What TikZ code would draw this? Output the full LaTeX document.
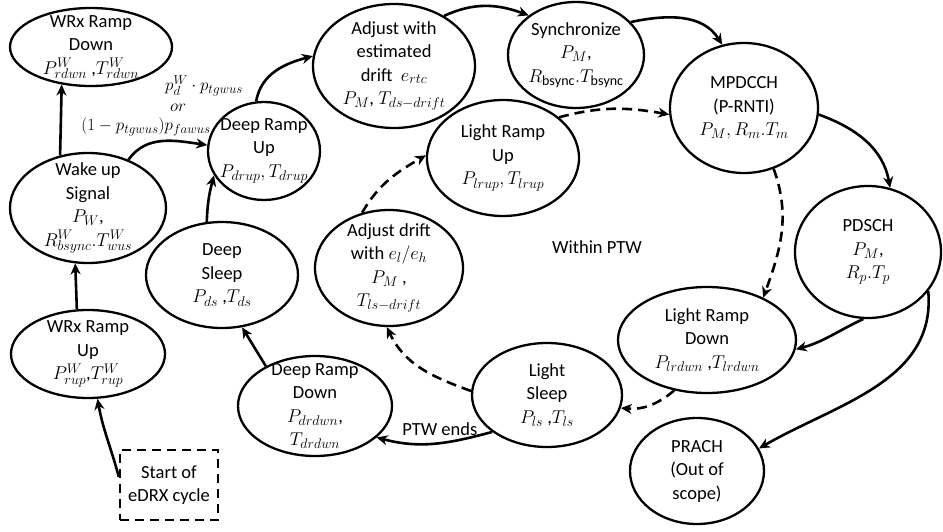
\RequirePackage{fix-cm}
\documentclass[tikz,border=0pt]{standalone}
\usepackage{fontspec}
\setmainfont{Carlito}
\DeclareMathSizes{18.5}{18.5}{14}{10}
\DeclareMathSizes{17}{17}{13}{9}
\usetikzlibrary{shapes.geometric,arrows.meta}
\begin{document}
\begin{tikzpicture}[x=1pt,y=-1pt,
  st/.style={draw,ellipse,line width=2.3pt,inner sep=0pt},
  txt/.style={align=center,font=\fontsize{18.5}{23.5}\selectfont,inner sep=0pt},
  lbl/.style={inner sep=0pt,font=\fontsize{17}{19}\selectfont},
  flow/.style={line width=2.6pt,-{Stealth[length=11pt,width=10pt,inset=3.5pt]}},
  dflow/.style={flow,dash pattern=on 10pt off 6pt},
]
\useasboundingbox (0,0) rectangle (943,532);

% ---- states ----
\node[st,minimum width=162pt,minimum height=78pt]  (wrdn) at (91,47)   {};
\node[st,minimum width=156pt,minimum height=110pt] (wus)  at (88,208)  {};
\node[st,minimum width=154pt,minimum height=88pt]  (wrup) at (88,354)  {};
\node[st,minimum width=112pt,minimum height=98pt]  (drup) at (264,151) {};
\node[st,minimum width=152pt,minimum height=106pt] (ds)   at (222,275) {};
\node[st,minimum width=154pt,minimum height=100pt] (ddn)  at (315,406) {};
\node[st,minimum width=150pt,minimum height=104pt] (ls)   at (547,395) {};
\node[st,minimum width=148pt,minimum height=116pt] (adr)  at (389,268) {};
\node[st,minimum width=152pt,minimum height=116pt] (lru)  at (503,158) {};
\node[st,minimum width=162pt,minimum height=124pt] (adj)  at (394,66)  {};
\node[st,minimum width=136pt,minimum height=106pt] (syn)  at (576,55)  {};
\node[st,minimum width=148pt,minimum height=130pt] (mpd)  at (744,108) {};
\node[st,minimum width=146pt,minimum height=132pt] (pds)  at (868,252) {};
\node[st,minimum width=178pt,minimum height=106pt] (lrd)  at (707,340) {};
\node[st,minimum width=134pt,minimum height=106pt] (pra)  at (697,471) {};
\node[txt,draw,dash pattern=on 9pt off 6pt,line width=2.3pt,
      minimum width=98pt,minimum height=70pt] (start) at (169,485) {Start of\\eDRX cycle};

% ---- state texts ----
\node[txt] at (wrdn) {WRx Ramp\\Down\\$P^W_{rdwn}$ ,$T^W_{rdwn}$};
\node[txt] at (wus)  {Wake up\\Signal\\$P_W$,\\$R^W_{bsync}.T^W_{wus}$};
\node[txt] at (wrup) {WRx Ramp\\Up\\$P^W_{rup}$,$T^W_{rup}$};
\node[txt] at (drup) {Deep Ramp\\Up\\$P_{drup}, T_{drup}$};
\node[txt] at (ds)   {Deep\\Sleep\\$P_{ds}$ ,$T_{ds}$};
\node[txt] at (ddn)  {Deep Ramp\\Down\\$P_{drdwn}$,\\$T_{drdwn}$};
\node[txt] at (ls)   {Light\\Sleep\\$P_{ls}$ ,$T_{ls}$};
\node[txt] at (adr)  {Adjust drift\\with $e_l/e_h$\\$P_M$ ,\\$T_{ls-drift}$};
\node[txt] at (lru)  {Light Ramp\\Up\\$P_{lrup}, T_{lrup}$};
\node[txt] at (adj)  {Adjust with\\estimated\\drift\ \ $e_{rtc}$\\$P_M$, $T_{ds-drift}$};
\node[txt] at (syn)  {Synchronize\\$P_M$,\\$R_{\mathrm{bsync}}.T_{\mathrm{bsync}}$};
\node[txt] at (mpd)  {MPDCCH\\(P-RNTI)\\$P_M, R_m.T_m$};
\node[txt] at (pds)  {PDSCH\\$P_M$,\\$R_p.T_p$};
\node[txt] at (lrd)  {Light Ramp\\Down\\$P_{lrdwn}$ ,$T_{lrdwn}$};
\node[txt] at (pra)  {PRACH\\(Out of\\scope)};

\node[txt] (ptw) at (597,247) {Within PTW};

% ---- wake-up receiver path ----
\draw[flow] ([yshift=8pt]start.west) to[out=105,in=-80] (wrup.-78);
\draw[flow] (wrup.104) -- (wus.-103);
\draw[flow] (wus.118) -- (wrdn.-128);
\draw[flow] (wus.50) to[out=55,in=172] (drup.174);
\node[lbl] (pw1) at (204,86)  {$p_d^W\cdot p_{tgwus}$};
\node[lbl] (pw2) at (178,108) {$or$};
\node[lbl] (pw3) at (146,127) {$(1-p_{tgwus})p_{fawus}$};

% ---- deep sleep cycle ----
\draw[flow] (ds.106) to[out=88,in=-105] (drup.-154);
\draw[flow] (ddn.141) -- (ds.-69);
\draw[flow] (ls.-146) to[out=195,in=-15] node[txt,above=6pt,pos=0.45] {PTW ends} (ddn.-27);
\draw[flow] (drup.99) to[out=80,in=195] (adj.173);
\draw[flow] (adj.45) to[out=25,in=160] (syn.140);
\draw[flow] (syn.31) to[out=12,in=122] (mpd.109);

% ---- paging ----
\draw[flow] (mpd.-5) to[out=-20,in=100] (pds.71);
\draw[flow] (pds.-94) to[out=205,in=15] (lrd.-6);
\draw[flow] (pds.-33) to[out=-85,in=30] (pra.20);

% ---- light sleep cycle (within PTW) ----
\draw[dflow] (mpd.-64) to[out=-70,in=70] (lrd.37);
\draw[dflow] (lrd.-123) to[out=-140,in=-5] (ls.-10);
\draw[dflow] (ls.177) to[out=160,in=-65] (adr.-92);
\draw[dflow] (adr.116) to[out=60,in=210] (lru.178);
\draw[dflow] (lru.36) to[out=15,in=170] (mpd.185);
\end{tikzpicture}
\end{document}
